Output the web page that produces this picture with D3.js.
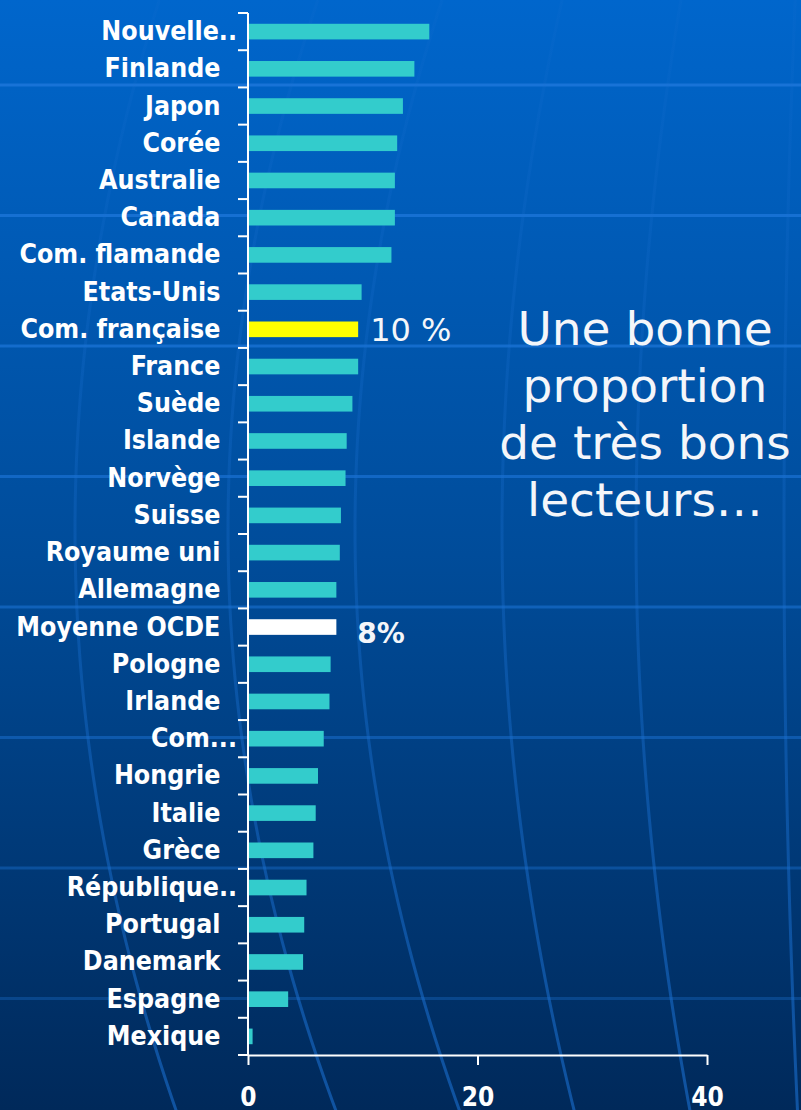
<!DOCTYPE html>
<html>
<head>
<meta charset="utf-8">
<script src="https://cdn.jsdelivr.net/npm/d3@7"></script>
<style>
  html, body { margin: 0; padding: 0; background: #003f80; }
  svg { display: block; }
</style>
</head>
<body>
<div id="chart"></div>
<script>
// share of very good readers (level 5)
var categories = ["Nouvelle..", "Finlande", "Japon", "Corée", "Australie", "Canada",
    "Com. flamande", "Etats-Unis", "Com. française", "France", "Suède", "Islande",
    "Norvège", "Suisse", "Royaume uni", "Allemagne", "Moyenne OCDE", "Pologne",
    "Irlande", "Com...", "Hongrie", "Italie", "Grèce", "République..", "Portugal",
    "Danemark", "Espagne", "Mexique"];
var values = [15.8, 14.5, 13.5, 13.0, 12.8, 12.8,
    12.5, 9.9, 9.6, 9.6, 9.1, 8.6,
    8.5, 8.1, 8.0, 7.7, 7.7, 7.2,
    7.1, 6.6, 6.1, 5.9, 5.7, 5.1, 4.9,
    4.8, 3.5, 0.4];
var xTicks = [0, 20, 40];
var highlightCats = ["Com. française", "Moyenne OCDE"];
var highlightLabels = ["10 %", "8%"];
var noteLines = ["Une bonne", "proportion", "de très bons", "lecteurs…"];

var outerWidth = 801;
var outerHeight = 1110;
var margin = { left: 248, top: 13, bottom: 1055, right: 707 };

var labelFont = "'DejaVu Sans', Verdana, sans-serif";

var svg = d3.select("#chart").append("svg")
    .attr("width", outerWidth)
    .attr("height", outerHeight);

// background gradient
var defs = svg.append("defs");
var grad = defs.append("linearGradient")
    .attr("id", "bg")
    .attr("x1", 0).attr("y1", 0).attr("x2", 0).attr("y2", 1);
grad.append("stop").attr("offset", "0%").attr("stop-color", "#0066cc");
grad.append("stop").attr("offset", "50%").attr("stop-color", "#004c9a");
grad.append("stop").attr("offset", "100%").attr("stop-color", "#00295a");

// meridians fade out towards the top
var merGrad = defs.append("linearGradient")
    .attr("id", "merFade")
    .attr("gradientUnits", "userSpaceOnUse")
    .attr("x1", 0).attr("y1", 0).attr("x2", 0).attr("y2", outerHeight);
merGrad.append("stop").attr("offset", "0%").attr("stop-color", "#1a6fd0").attr("stop-opacity", 0.12);
merGrad.append("stop").attr("offset", "45%").attr("stop-color", "#1a6fd0").attr("stop-opacity", 0.3);
merGrad.append("stop").attr("offset", "100%").attr("stop-color", "#1a6fd0").attr("stop-opacity", 0.6);

svg.append("rect")
    .attr("width", outerWidth)
    .attr("height", outerHeight)
    .attr("fill", "url(#bg)");

// globe-like decoration: latitude lines + meridians
var deco = svg.append("g");
deco.selectAll(".lat")
    .data(d3.range(85, outerHeight, 130.5))
    .enter().append("line")
    .attr("x1", 0).attr("x2", outerWidth)
    .attr("y1", function(d) { return d; })
    .attr("y2", function(d) { return d; })
    .attr("stroke", "#1f78dc")
    .attr("stroke-width", 3)
    .attr("opacity", function(d) { return 0.85 - d / outerHeight * 0.6; });

var meridians = [[75, 3.0e-4], [228, 3.2e-4], [355, 3.1e-4], [502, 2.14e-4], [636, 1.6e-4], [784, 0.4e-4]];
var merLine = d3.line()
    .x(function(d) { return d[0]; })
    .y(function(d) { return d[1]; });
deco.selectAll(".mer")
    .data(meridians)
    .enter().append("path")
    .attr("d", function(m) {
        return merLine(d3.range(0, outerHeight + 20, 20).map(function(yy) {
            return [m[0] + m[1] * (yy - 530) * (yy - 530), yy];
        }));
    })
    .attr("fill", "none")
    .attr("stroke", "url(#merFade)")
    .attr("stroke-width", 3);

// scales
var x = d3.scaleLinear().domain([0, 40]).range([margin.left, margin.right]);
var y = d3.scaleBand().domain(categories).range([margin.top, margin.bottom])
    .paddingInner(0.58).paddingOuter(0.29);

// bars
svg.selectAll(".bar")
    .data(values)
    .enter().append("rect")
    .attr("x", x(0))
    .attr("y", function(d, i) { return y(categories[i]); })
    .attr("width", function(d) { return x(d) - x(0); })
    .attr("height", y.bandwidth())
    .attr("fill", function(d, i) {
        if (categories[i] === "Com. française") return "#ffff00";
        if (categories[i] === "Moyenne OCDE") return "#ffffff";
        return "#33cccc";
    });

// category labels
var yAxis = svg.append("g")
    .attr("transform", "translate(" + margin.left + ",0)")
    .call(d3.axisLeft(y).tickSize(0).tickPadding(11)
        .tickFormat(function(d) { return d.endsWith(".") ? d : d + "\u00a0\u00a0"; }));
yAxis.select(".domain").remove();
yAxis.selectAll("text")
    .attr("fill", "#ffffff")
    .style("font-family", labelFont)
    .style("font-weight", "bold")
    .style("font-stretch", "condensed")
    .style("font-size", "26.5px");

// y axis line + boundary ticks
svg.append("line")
    .attr("x1", margin.left).attr("x2", margin.left)
    .attr("y1", margin.top).attr("y2", margin.bottom)
    .attr("stroke", "#ffffff").attr("stroke-width", 2);
svg.selectAll(".ytick")
    .data(d3.range(categories.length + 1))
    .enter().append("line")
    .attr("x1", margin.left - 10).attr("x2", margin.left)
    .attr("y1", function(k) { return margin.top + k * y.step(); })
    .attr("y2", function(k) { return margin.top + k * y.step(); })
    .attr("stroke", "#ffffff").attr("stroke-width", 2);

// x axis
var xAxis = svg.append("g")
    .attr("transform", "translate(0," + margin.bottom + ")")
    .call(d3.axisBottom(x).tickValues(xTicks).tickSize(10).tickSizeOuter(0).tickPadding(23));
xAxis.select(".domain").attr("stroke", "#ffffff").attr("stroke-width", 2);
xAxis.selectAll(".tick line").attr("stroke", "#ffffff").attr("stroke-width", 2);
xAxis.selectAll("text")
    .attr("fill", "#ffffff")
    .style("font-family", labelFont)
    .style("font-weight", "bold")
    .style("font-stretch", "condensed")
    .style("font-size", "26px");

// value callouts
var calloutStyles = [
    { dx: 12, dy: 12, size: "32px", weight: "normal" },
    { dx: 21, dy: 16, size: "28px", weight: "bold" }
];
highlightCats.forEach(function(c, i) {
    var v = values[categories.indexOf(c)];
    var s = calloutStyles[i];
    svg.append("text")
        .attr("x", x(v) + s.dx)
        .attr("y", y(c) + y.bandwidth() / 2 + s.dy)
        .attr("fill", "#f4f6fa")
        .style("font-family", labelFont)
        .style("font-weight", s.weight)
        .style("font-size", s.size)
        .text(highlightLabels[i]);
});

// side note
svg.append("text")
    .attr("text-anchor", "middle")
    .attr("fill", "#f4f6fa")
    .style("font-family", labelFont)
    .style("font-size", "47px")
    .selectAll("tspan")
    .data(noteLines)
    .enter().append("tspan")
    .attr("x", 645)
    .attr("y", function(d, i) { return 345 + i * 57; })
    .text(function(d) { return d; });
</script>
</body>
</html>
